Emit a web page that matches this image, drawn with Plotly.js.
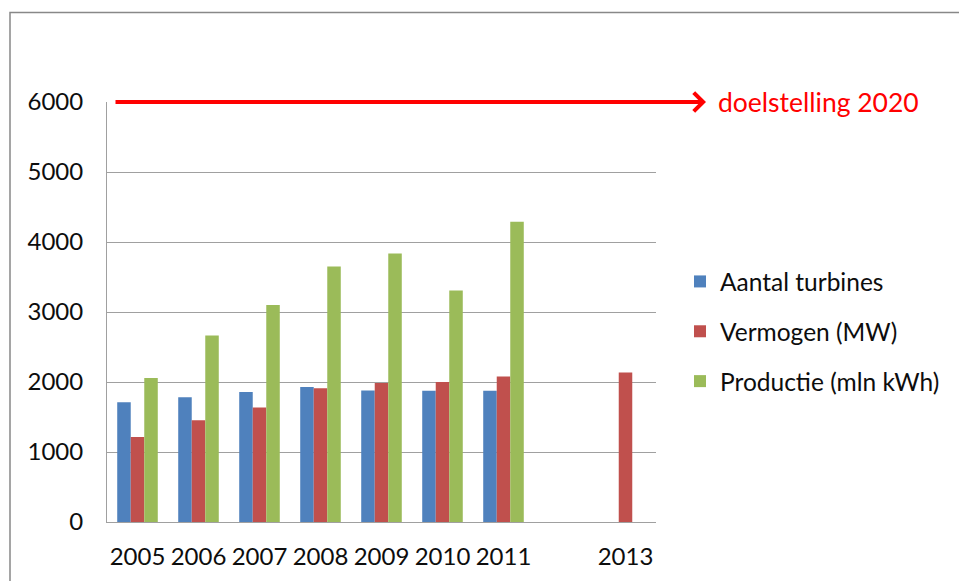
<!DOCTYPE html>
<html>
<head>
<meta charset="utf-8">
<script src="https://cdn.plot.ly/plotly-3.0.1.min.js"></script>
<style>html,body{margin:0;padding:0;background:#fff;} #chart{width:959px;height:581px;}</style>
</head>
<body>
<div id="chart"></div>
<script>
const years = ['2005','2006','2007','2008','2009','2010','2011','2012','2013'];
const tickLabels = ['2005','2006','2007','2008','2009','2010','2011','','2013'];
const seriesNames = ['Aantal turbines','Vermogen (MW)','Productie (mln kWh)'];
const turbines = [1710, 1781, 1857, 1929, 1877, 1876, 1876, null, null];
const vermogen = [1214, 1453, 1634, 1910, 1986, 2000, 2077, null, 2134];
const productie = [2057, 2663, 3100, 3649, 3834, 3306, 4291, null, null];
const targetValue = 6000;
const targetLabel = 'doelstelling 2020';
const yTicks = [0, 1000, 2000, 3000, 4000, 5000, 6000];

const colors = ['#4F81BD', '#C0504D', '#9BBB59'];
const FONT = 'Lato, "Open Sans", sans-serif';
const TXT = '#0d0d0d';
const values = [turbines, vermogen, productie];

const traces = values.map((v, i) => ({
  type: 'bar',
  x: years,
  y: v,
  name: seriesNames[i],
  legendgroup: 'g' + i,
  marker: {color: colors[i], line: {width: 0}},
  hoverinfo: 'x+y+name'
}));

const W = 959, H = 581;
const L = 107, R = 656, T = 102, B = 522;
const px = x => (x - L) / (R - L);
const py = y => (B - y) / (B - T);

const layout = {
  width: W, height: H,
  margin: {l: L, r: W - R, t: T, b: H - B, pad: 0},
  paper_bgcolor: '#ffffff',
  plot_bgcolor: '#ffffff',
  font: {family: FONT, size: 24, color: TXT},
  barmode: 'group',
  bargap: 0.335,
  bargroupgap: 0,
  showlegend: true,
  legend: {
    x: px(680), xanchor: 'left',
    y: py(331.5), yanchor: 'middle',
    traceorder: 'grouped',
    tracegroupgap: 15,
    font: {family: FONT, size: 24.5, color: TXT},
    bgcolor: 'rgba(0,0,0,0)',
    borderwidth: 0
  },
  xaxis: {
    type: 'category',
    categoryorder: 'array',
    categoryarray: years,
    tickmode: 'array',
    tickvals: years,
    ticktext: tickLabels,
    ticks: '',
    showgrid: false,
    showline: true,
    linecolor: '#a0a0a0',
    linewidth: 1,
    zeroline: false,
    ticklabelstandoff: 13,
    tickfont: {family: FONT, size: 24, color: TXT},
    fixedrange: true
  },
  yaxis: {
    range: [0, 6000],
    tickmode: 'array',
    tickvals: yTicks,
    ticktext: yTicks.map(String),
    ticks: '',
    showgrid: true,
    gridcolor: '#a0a0a0',
    gridwidth: 1,
    showline: true,
    linecolor: '#a0a0a0',
    linewidth: 1,
    zeroline: false,
    ticklabelstandoff: 18,
    tickfont: {family: FONT, size: 24, color: TXT},
    fixedrange: true
  },
  shapes: [
    {type: 'rect', xref: 'paper', yref: 'paper',
     x0: px(10), x1: px(970), y0: py(12.5), y1: py(600),
     line: {color: '#888888', width: 1.5}, fillcolor: 'rgba(0,0,0,0)', layer: 'below'}
  ],
  annotations: [
    {xref: 'paper', yref: 'y', x: px(706), y: targetValue,
     axref: 'pixel', ayref: 'pixel', ax: 111 - 706, ay: 0,
     text: ' ', showarrow: true, arrowhead: 4, arrowsize: 0.95, arrowwidth: 3.8,
     arrowcolor: '#FF0000', standoff: 0, startstandoff: 0},
    {xref: 'paper', yref: 'y', x: px(716), y: targetValue,
     xanchor: 'left', yanchor: 'middle', showarrow: false,
     text: targetLabel,
     font: {family: FONT, size: 26.5, color: '#FF0000'}}
  ]
};

Plotly.newPlot('chart', traces, layout, {displayModeBar: false, staticPlot: true});
</script>
</body>
</html>
